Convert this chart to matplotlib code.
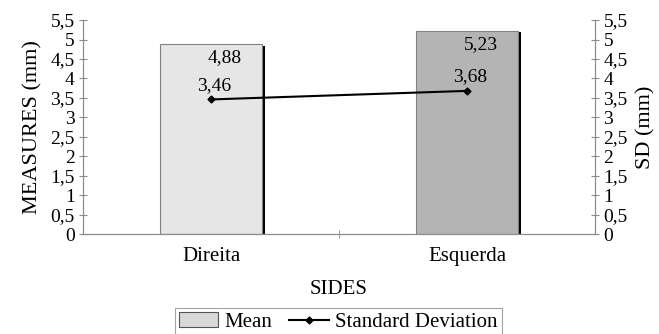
import matplotlib.pyplot as plt
import numpy as np
from matplotlib.patches import Rectangle
from matplotlib.lines import Line2D

plt.rcParams['font.family'] = ['Liberation Serif', 'DejaVu Serif']

sides = ["Direita", "Esquerda"]
mean_mm = [4.88, 5.23]
sd_mm = [3.46, 3.68]
bar_colors = ["#e6e6e6", "#b4b4b4"]
yticks = np.arange(0, 5.51, 0.5)
ytick_labels = ["0", "0,5", "1", "1,5", "2", "2,5", "3", "3,5", "4", "4,5", "5", "5,5"]

axis_gray = "#8c8c8c"
fs = 15
tfs = 14

fig = plt.figure(figsize=(6.59, 3.34), dpi=100)
ax = fig.add_axes([0.126, 0.299, 0.777, 0.641])
ax2 = ax.twinx()

x = np.arange(len(sides))
w = 0.4

# drop shadow first, then the bars on top
ax.bar(x + 0.012, np.array(mean_mm) - 0.05, width=w, color="black", zorder=1)
ax.bar(x, mean_mm, width=w, color=bar_colors, edgecolor="#808080", linewidth=0.8, zorder=2)
for xi, m in zip(x, mean_mm):
    ax.annotate(f"{m:.2f}".replace(".", ","), (xi, m), xytext=(10, -10),
                textcoords="offset points", ha="center", va="center", fontsize=tfs, zorder=3)

ax2.plot(x, sd_mm, color="black", lw=1.5, marker="D", ms=3.5, zorder=4)
for xi, s in zip(x, sd_mm):
    ax2.annotate(f"{s:.2f}".replace(".", ","), (xi, s), xytext=(2, 10),
                 textcoords="offset points", ha="center", va="center", fontsize=tfs)

for a in (ax, ax2):
    a.set_xlim(-0.5, 1.5)
    a.set_ylim(0, 5.5)
    a.set_yticks(yticks)
    a.set_yticklabels(ytick_labels, fontsize=tfs)
    a.spines["top"].set_visible(False)
    for sp in ("left", "right", "bottom"):
        a.spines[sp].set_color(axis_gray)
    a.tick_params(axis="y", direction="inout", length=6, color=axis_gray, pad=3)

ax.set_xticks([0.5], minor=True)
ax.set_xticks(x)
ax.set_xticklabels(sides, fontsize=fs)
ax.tick_params(axis="x", which="major", length=0, pad=9)
ax.tick_params(axis="x", which="minor", direction="inout", length=6, color=axis_gray)

ax.set_ylabel("MEASURES (mm)", fontsize=fs + 1, labelpad=6)
ax2.set_ylabel("SD (mm)", fontsize=fs + 1, labelpad=6)
ax.set_xlabel("SIDES", fontsize=fs, labelpad=10)

handles = [Rectangle((0, 0), 1, 0.7, facecolor="#d9d9d9", edgecolor="#555555", lw=0.8),
           Line2D([], [], color="black", lw=1.5, marker="D", ms=3.5)]
leg = fig.legend(handles, ["Mean", "Standard Deviation"], loc="upper center",
                 bbox_to_anchor=(0.513, 0.077), ncol=2, fontsize=fs, frameon=True,
                 fancybox=False, edgecolor=axis_gray, handlelength=1.9, handletextpad=0.3,
                 columnspacing=0.8, borderpad=0.2, borderaxespad=0)
leg.get_frame().set_linewidth(0.8)

fig.savefig("out.png", dpi=100)
